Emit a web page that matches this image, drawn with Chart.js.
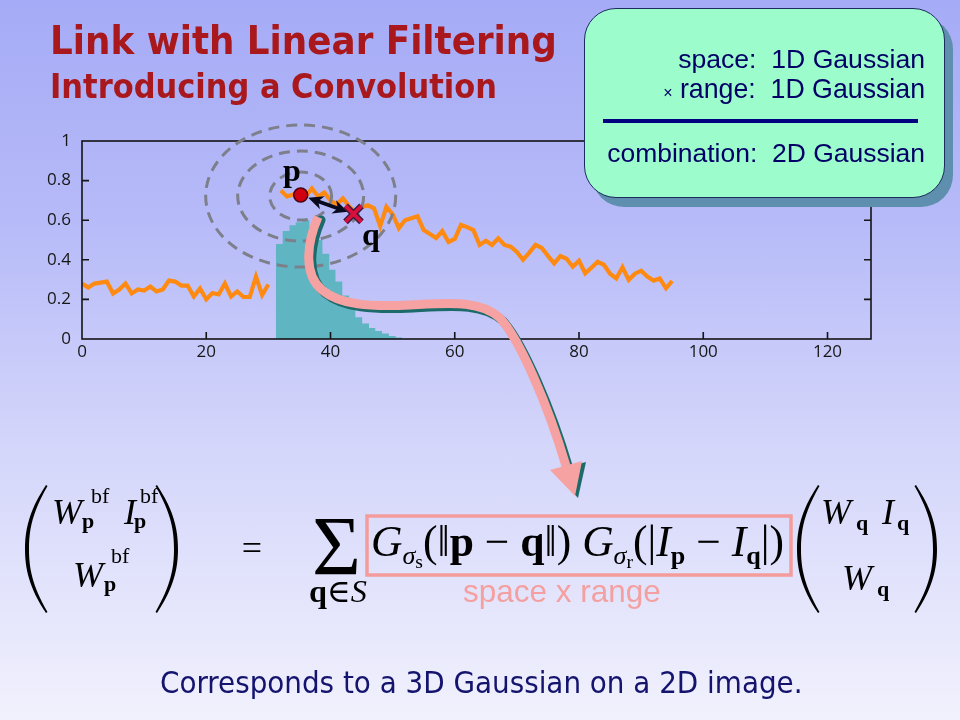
<!DOCTYPE html>
<html><head><meta charset="utf-8"><title>Link with Linear Filtering</title>
<script src="https://cdn.jsdelivr.net/npm/chart.js@4.4.1/dist/chart.umd.min.js"></script>
<style>
html,body{margin:0;padding:0;}
body{width:960px;height:720px;position:relative;overflow:hidden;
 background:linear-gradient(180deg,#a5abf6 0%,#b6baf8 30%,#d2d4fa 60%,#f1f1fd 100%);}
#c{position:absolute;left:0;top:0;z-index:1}
#ov{position:absolute;left:0;top:0;z-index:2}
.t{position:absolute;white-space:nowrap;z-index:3;line-height:1.2;left:0;top:0}
.ser{font-family:"Liberation Serif","DejaVu Serif",serif;color:#000}
.ser sub{font-size:0.6em;vertical-align:-0.32em;line-height:0}
.ser sub sub{font-size:0.75em;vertical-align:-0.2em}
#box{position:absolute;left:584px;top:8px;width:359px;height:188px;background:#9cfccb;border:1.5px solid #1c2c5c;border-radius:32px;box-shadow:8px 9px 0 #5e8fae;z-index:4}
.bx{font-family:"Liberation Sans",Arial,sans-serif;color:#000066;z-index:5}
#sep{position:absolute;left:603px;top:119px;width:315px;height:3.5px;background:#000080;z-index:5}
.head{font-family:"DejaVu Sans Condensed","DejaVu Sans",sans-serif;font-weight:bold;color:#a8181c}
</style></head><body>
<canvas id="c" width="960" height="720"></canvas>
<svg id="ov" width="960" height="720" xmlns="http://www.w3.org/2000/svg"></svg>

<div class="t head" id="title">Link with Linear Filtering</div>
<div class="t head" id="subtitle">Introducing a Convolution</div>

<div id="box"></div>
<div class="t bx" id="b1">space:&nbsp; 1D Gaussian</div>
<div class="t bx" id="b2"><span style="font-size:0.6em">×</span> range:&nbsp; 1D Gaussian</div>
<div id="sep"></div>
<div class="t bx" id="b3">combination:&nbsp; 2D Gaussian</div>

<div class="t ser" id="lp" style="font-weight:bold">p</div>
<div class="t ser" id="lq" style="font-weight:bold">q</div>

<div class="t ser" id="fW1"><i>W</i></div>
<div class="t ser" id="fbf1">bf</div>
<div class="t ser" id="fp1"><b>p</b></div>
<div class="t ser" id="fI1"><i>I</i></div>
<div class="t ser" id="fbf2">bf</div>
<div class="t ser" id="fp2"><b>p</b></div>
<div class="t ser" id="fW2"><i>W</i></div>
<div class="t ser" id="fbf3">bf</div>
<div class="t ser" id="fp3"><b>p</b></div>
<div class="t ser" id="feq">=</div>
<div class="t ser" id="fsum">Σ</div>
<div class="t ser" id="fqs"><b>q</b>∈<i>S</i></div>
<div class="t ser" id="fbox"><i>G</i><sub><i>σ</i><sub>s</sub></sub>(‖<b>p</b> − <b>q</b>‖) <i>G</i><sub><i>σ</i><sub>r</sub></sub>(|<i>I</i><sub><b>p</b></sub> − <i>I</i><sub><b>q</b></sub>|)</div>
<div class="t ser" id="fWq1"><i>W</i></div>
<div class="t ser" id="fq1"><b>q</b></div>
<div class="t ser" id="fIq"><i>I</i></div>
<div class="t ser" id="fq2"><b>q</b></div>
<div class="t ser" id="fWq2"><i>W</i></div>
<div class="t ser" id="fq3"><b>q</b></div>

<div class="t" id="sxr" style="font-family:'Liberation Sans',Arial,sans-serif;color:#f4a0a0">space x range</div>
<div class="t" id="bottom" style="font-family:'DejaVu Sans Condensed','DejaVu Sans',sans-serif;color:#14146e">Corresponds to a 3D Gaussian on a 2D image.</div>

<script>
// ---------------- DATA ----------------
// 1D signal (sample index = position), null = step edge gap
const signalValues = [
 0.28,0.26,0.28,0.285,0.29,0.23,0.25,0.28,0.23,0.25,
 0.245,0.265,0.24,0.25,0.295,0.29,0.27,0.27,0.215,0.255,
 0.20,0.232,0.225,0.28,0.215,0.24,0.212,0.212,0.315,0.222,
 0.275,null,0.75,0.72,0.73,0.74,0.72,0.76,0.72,0.74,
 0.70,0.68,0.71,0.67,0.64,0.665,0.675,0.66,0.57,0.668,
 0.63,0.56,0.60,0.61,0.62,0.55,0.53,0.51,0.545,0.49,
 0.505,0.576,0.565,0.55,0.475,0.496,0.475,0.508,0.475,0.466,
 0.44,0.40,0.436,0.475,0.46,0.42,0.382,0.419,0.405,0.365,
 0.395,0.332,0.36,0.39,0.375,0.33,0.306,0.362,0.298,0.33,
 0.345,0.315,0.295,0.306,0.256,0.293
];
// histogram (range weights) bin left edges and heights
const histEdges   = [31.2,32.3,33.4,34.4,35.5,36.6,37.6,38.7,39.8,40.8,41.9,43.0,44.0,45.1,46.2,47.2,48.3,49.4,50.5,51.5];
const histHeights = [0.48,0.545,0.575,0.59,0.60,0.57,0.50,0.43,0.35,0.29,0.22,0.16,0.11,0.078,0.055,0.04,0.028,0.015,0.008,0];
// axis ticks
const xTickValues = [0,20,40,60,80,100,120];
const yTickValues = [0,0.2,0.4,0.6,0.8,1];
const yTickLabels = ['0','0.2','0.4','0.6','0.8','1'];
// annotated samples p and q
const pPoint = {x:35.2, y:0.727};
const qPoint = {x:43.7, y:0.632};

// ---------------- CHART ----------------
const signalData = signalValues.map((v,i)=>({x:i,y:v}));
const histData = [{x:histEdges[0],y:0}].concat(histEdges.map((e,i)=>({x:e,y:histHeights[i]})));

const frameTicks = {
  id:'frameTicks',
  afterDatasetsDraw(chart){
    const {ctx, chartArea:a, scales:{x,y}} = chart;
    ctx.save();
    ctx.strokeStyle='#151515'; ctx.lineWidth=1.6;
    ctx.strokeRect(a.left,a.top,a.right-a.left,a.bottom-a.top);
    ctx.beginPath();
    xTickValues.forEach(v=>{ if(v===0) return; const px=x.getPixelForValue(v); ctx.moveTo(px,a.bottom); ctx.lineTo(px,a.bottom-7); });
    yTickValues.forEach(v=>{ if(v===0||v===1) return; const py=y.getPixelForValue(v);
      ctx.moveTo(a.left,py); ctx.lineTo(a.left+7,py); ctx.moveTo(a.right,py); ctx.lineTo(a.right-7,py); });
    ctx.stroke();
    ctx.restore();
  }
};
function head(ctx, tx, ty, fx, fy, len, w){
  const ang=Math.atan2(ty-fy,tx-fx);
  ctx.beginPath();
  ctx.moveTo(tx,ty);
  ctx.lineTo(tx-len*Math.cos(ang)+w*Math.sin(ang), ty-len*Math.sin(ang)-w*Math.cos(ang));
  ctx.lineTo(tx-len*0.7*Math.cos(ang), ty-len*0.7*Math.sin(ang));
  ctx.lineTo(tx-len*Math.cos(ang)-w*Math.sin(ang), ty-len*Math.sin(ang)+w*Math.cos(ang));
  ctx.closePath(); ctx.fill();
}
const annot = {
  id:'annot',
  afterDraw(chart){
    const {ctx, scales:{x,y}} = chart;
    const px=x.getPixelForValue(pPoint.x), py=y.getPixelForValue(pPoint.y);
    const qx=x.getPixelForValue(qPoint.x), qy=y.getPixelForValue(qPoint.y);
    ctx.save();
    ctx.strokeStyle='#7d7f8a'; ctx.lineWidth=3; ctx.setLineDash([11,7]);
    [[31,24],[63,45],[95,71]].forEach(([rx,ry])=>{ ctx.beginPath(); ctx.ellipse(px,py+1,rx,ry,0,0,Math.PI*2); ctx.stroke(); });
    ctx.setLineDash([]);
    const ang=Math.atan2(qy-py,qx-px);
    const sx=px+8*Math.cos(ang), sy=py+8*Math.sin(ang), ex=qx-6*Math.cos(ang), ey=qy-6*Math.sin(ang);
    ctx.strokeStyle='#0a0a1e'; ctx.fillStyle='#0a0a1e'; ctx.lineWidth=3.8;
    ctx.beginPath(); ctx.moveTo(sx+8*Math.cos(ang),sy+8*Math.sin(ang)); ctx.lineTo(ex-8*Math.cos(ang),ey-8*Math.sin(ang)); ctx.stroke();
    head(ctx,sx,sy,ex,ey,15,7);
    head(ctx,ex,ey,sx,sy,15,7);
    ctx.beginPath(); ctx.arc(px,py,7,0,Math.PI*2); ctx.fillStyle='#d00010'; ctx.fill();
    ctx.lineWidth=1.5; ctx.strokeStyle='#4a0010'; ctx.stroke();
    const d=8;
    [[6.5,'#3a1840'],[3.6,'#d8103a']].forEach(([lw,col])=>{
      ctx.strokeStyle=col; ctx.lineWidth=lw; ctx.lineCap='butt';
      ctx.beginPath(); ctx.moveTo(qx-d,qy-d); ctx.lineTo(qx+d,qy+d); ctx.moveTo(qx+d,qy-d); ctx.lineTo(qx-d,qy+d); ctx.stroke();
    });
    ctx.restore();
  }
};

Chart.defaults.font.family = '"Open Sans", Lato, sans-serif';
Chart.defaults.font.size = 17;
Chart.defaults.color = '#161616';
const tickFont = () => ({family:'"Open Sans", Lato, sans-serif', size:17});
new Chart(document.getElementById('c'), {
  type:'line',
  data:{datasets:[
    {label:'signal', data:signalData, borderColor:'#ff8a12', borderWidth:4.2, pointRadius:0, tension:0, spanGaps:false, fill:false, order:0, borderJoinStyle:'miter'},
    {label:'range weights', data:histData, stepped:true, borderWidth:0, borderColor:'rgba(0,0,0,0)', backgroundColor:'#60b5c3', fill:'origin', pointRadius:0, order:1}
  ]},
  options:{
    responsive:false, animation:false, devicePixelRatio:1,
    layout:{padding:{left:40,top:141,right:89,bottom:351}},
    plugins:{legend:{display:false},tooltip:{enabled:false}},
    scales:{
      x:{type:'linear',min:0,max:127,
         afterBuildTicks:s=>{ s.ticks = xTickValues.map(v=>({value:v})); },
         ticks:{color:'#161616',font:tickFont,padding:3,maxRotation:0,autoSkip:false,callback:v=>String(v)},
         grid:{display:false,drawTicks:false}, border:{display:false},
         afterFit:s=>{ s.height=30; }},
      y:{min:0,max:1,
         afterBuildTicks:s=>{ s.ticks = yTickValues.map(v=>({value:v})); },
         ticks:{color:'#161616',font:tickFont,padding:11,autoSkip:false,
                callback:(v,i)=>yTickLabels[i]},
         grid:{display:false,drawTicks:false}, border:{display:false},
         afterFit:s=>{ s.width=42; }}
    }
  },
  plugins:[frameTicks, annot]
});

// ---------------- OVERLAY (arrow, parens, box) ----------------
const NS='http://www.w3.org/2000/svg', ov=document.getElementById('ov');
function el(tag, attrs){ const e=document.createElementNS(NS,tag); for(const k in attrs) e.setAttribute(k,attrs[k]); ov.appendChild(e); return e; }
const curve='M318,217 C306,245 304,275 322,290 C340,305 370,307 410,305 C450,303 480,300 500,318 C520,340 548,405 566,466';
el('path',{d:curve,transform:'translate(3,3)',fill:'none',stroke:'#1c6a6a','stroke-width':9,'stroke-linecap':'round'});
el('path',{d:curve,fill:'none',stroke:'#f7a2a2','stroke-width':9,'stroke-linecap':'butt'});
el('polygon',{points:'551,470 584,461 576,497',fill:'#1c6a6a',transform:'translate(2,1)'});
el('polygon',{points:'550,470 582,461 575,496',fill:'#f7a2a2'});
function paren(x0,x1,top,bot,dir){
  const h=bot-top, mid=(top+bot)/2, t=4*dir, t2=7*dir, e=1.5*dir;
  const d=`M${x1},${top} C${x0+t},${top+0.2*h} ${x0},${top+0.35*h} ${x0},${mid} C${x0},${bot-0.35*h} ${x0+t},${bot-0.2*h} ${x1},${bot} L${x1+e},${bot-1} C${x0+t2},${bot-0.22*h} ${x0+t},${bot-0.35*h} ${x0+t},${mid} C${x0+t},${top+0.35*h} ${x0+t2},${top+0.22*h} ${x1+e},${top+1} Z`;
  el('path',{d,fill:'#000'});
}
paren(25,46,485,613,1);
paren(178,157,485,613,-1);
paren(797,818,485,613,1);
paren(937,916,485,613,-1);
el('rect',{x:367,y:516,width:424,height:59,fill:'none',stroke:'#f49c9c','stroke-width':3.5});

// ---------------- TEXT PLACEMENT ----------------
function place(id, x, base, o){
  o=o||{};
  const e=document.getElementById(id);
  if(o.width){ e.style.fontSize='100px'; const w0=e.getBoundingClientRect().width; e.style.fontSize=(100*o.width/w0)+'px'; }
  else if(o.size){ e.style.fontSize=o.size+'px'; }
  e.style.left='0px'; e.style.top='0px';
  const m=document.createElement('span'); m.style.cssText='display:inline-block;width:0;height:0;vertical-align:baseline;';
  e.appendChild(m);
  const r=e.getBoundingClientRect(), mr=m.getBoundingClientRect();
  const off=mr.bottom-r.top; e.removeChild(m);
  const w=r.width, a=o.align||'left';
  e.style.left=(a==='right'?x-w:a==='center'?x-w/2:x)+'px';
  e.style.top=(base-off)+'px';
}
function layout(){
  place('title',50,54,{width:507});
  place('subtitle',50,98,{width:447});
  place('b1',925,68,{width:247,align:'right'});
  place('b2',925,98,{width:262,align:'right'});
  place('b3',925,162,{width:318,align:'right'});
  place('lp',283,181,{size:32});
  place('lq',362,245,{size:32});
  place('fW1',52,524,{size:36});
  place('fbf1',91,503,{size:22});
  place('fp1',82,528,{size:22});
  place('fI1',124,524,{size:36});
  place('fbf2',140,503,{size:22});
  place('fp2',134,528,{size:22});
  place('fW2',73,587,{size:36});
  place('fbf3',111,563,{size:22});
  place('fp3',104,591,{size:22});
  place('feq',252,560,{size:36,align:'center'});
  place('fsum',312,575,{width:49});
  place('fqs',309,602,{width:58});
  place('fbox',371,556,{width:413});
  place('fWq1',821,524,{size:36});
  place('fq1',856,530,{size:22});
  place('fIq',882,524,{size:36});
  place('fq2',897,530,{size:22});
  place('fWq2',842,590,{size:36});
  place('fq3',877,596,{size:22});
  place('sxr',463,602,{width:198});
  place('bottom',160,693,{width:643});
}
layout();
if(document.fonts && document.fonts.ready) document.fonts.ready.then(layout);
</script>
</body></html>
